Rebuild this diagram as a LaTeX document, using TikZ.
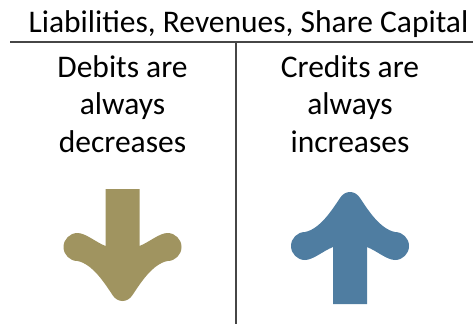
\documentclass[tikz,border=0pt]{standalone}
\usepackage{fontspec}
\setmainfont{Carlito}
\definecolor{goldc}{RGB}{160,148,96}
\definecolor{bluec}{RGB}{79,125,161}
\definecolor{linec}{RGB}{70,70,70}
\begin{document}
\begin{tikzpicture}[x=1pt,y=-1pt,
  title/.style={font=\fontsize{31.5}{35}\selectfont, anchor=base, inner sep=0pt},
  body/.style={font=\fontsize{31.5}{35}\selectfont, anchor=base, inner sep=0pt},
  rule/.style={draw=linec, line width=1.3pt}]
\useasboundingbox (0,0) rectangle (473,324);
\def\arrowpath{(-17,304) -- (17,304) -- (17,247)
  .. controls (27,251) and (37,260) .. (45,260)
  .. controls (52.7,260) and (59,253.7) .. (59,246)
  .. controls (59,238.3) and (52.7,232) .. (45,232)
  .. controls (30,229) and (18,210) .. (10,198)
  .. controls (5,190) and (-5,190) .. (-10,198)
  .. controls (-18,210) and (-30,229) .. (-45,232)
  .. controls (-52.7,232) and (-59,238.3) .. (-59,246)
  .. controls (-59,253.7) and (-52.7,260) .. (-45,260)
  .. controls (-37,260) and (-27,251) .. (-17,247) -- cycle}
\node[title] (t) at (248.5,32) {Liabilities, Revenues, Share Capital};
\coordinate (hl) at (10,42);
\coordinate (hr) at (473,42);
\coordinate (vt) at (236,42);
\coordinate (vb) at (236,324);
\draw[rule] (hl) -- (hr);
\draw[rule] (vt) -- (vb);
\node[body] (d1) at (122.5,77) {Debits are};
\node[body] (d2) at (122.5,114.5) {always};
\node[body] (d3) at (122.5,152) {decreases};
\node[body] (c1) at (350,77) {Credits are};
\node[body] (c2) at (350,114.5) {always};
\node[body] (c3) at (350,152) {increases};
\begin{scope}[shift={(122.5,493)}, yscale=-1]
  \fill[goldc] \arrowpath;
\end{scope}
\begin{scope}[shift={(350,0)}]
  \fill[bluec] \arrowpath;
\end{scope}
\end{tikzpicture}
\end{document}
